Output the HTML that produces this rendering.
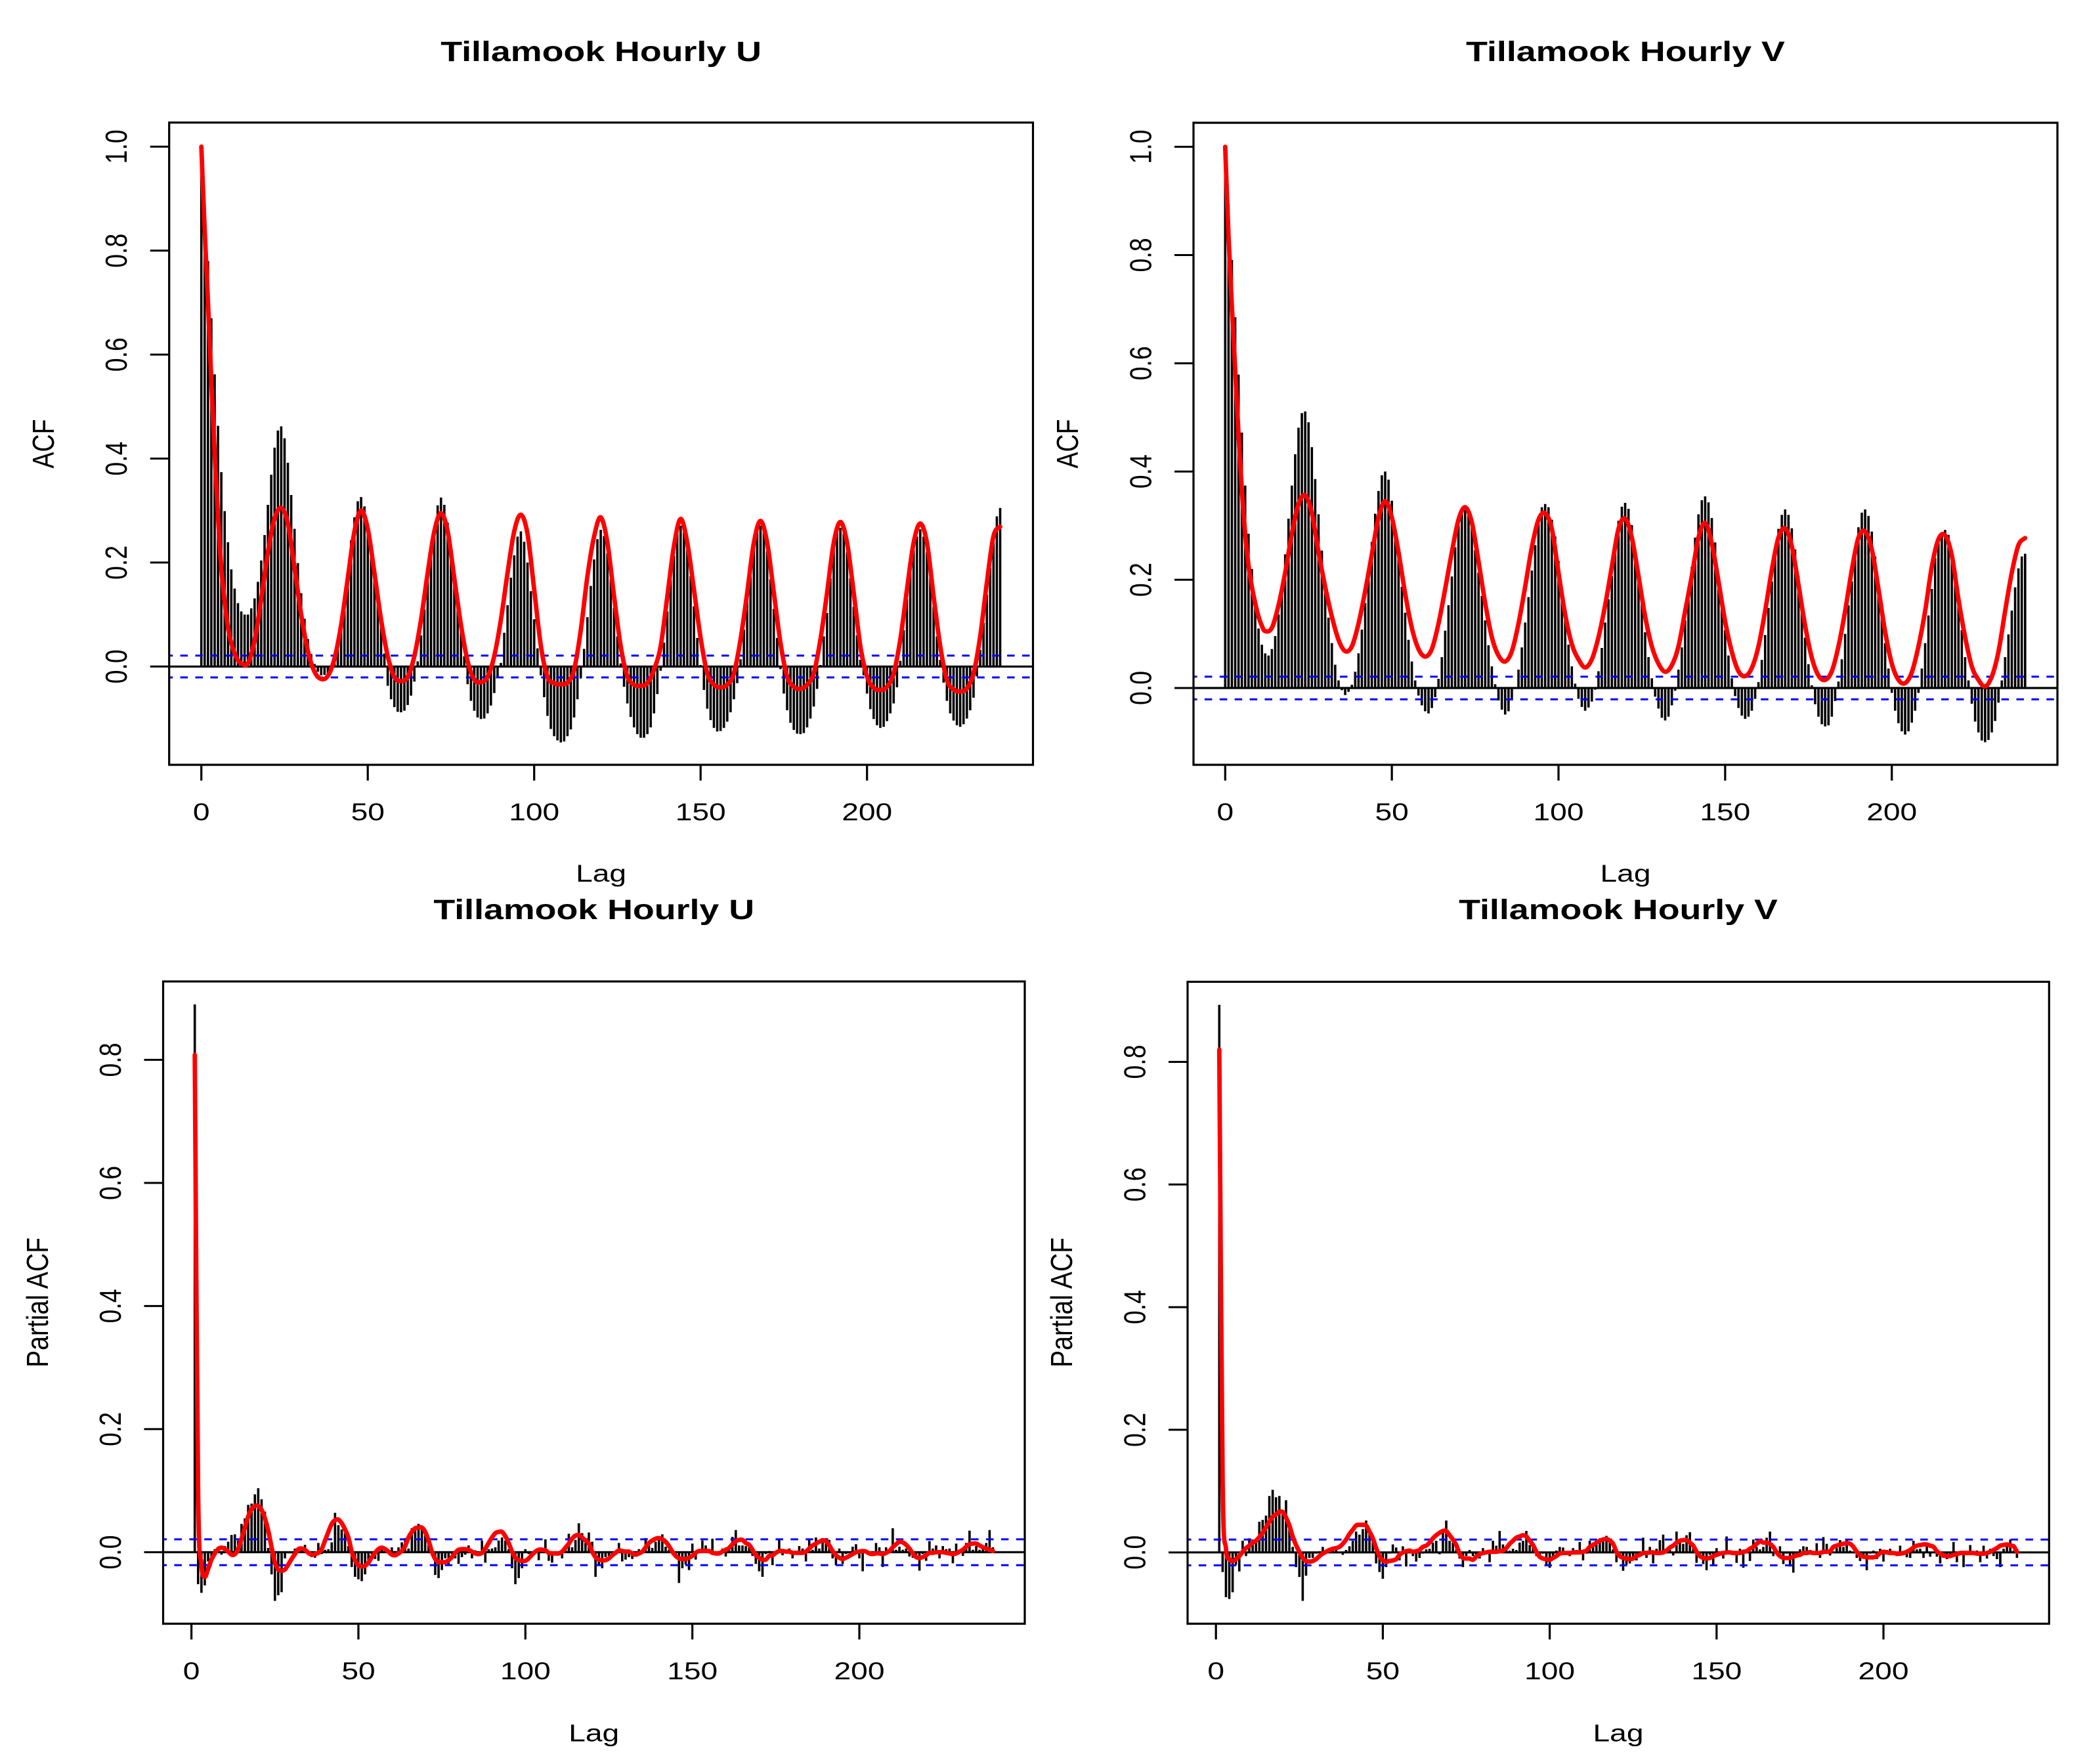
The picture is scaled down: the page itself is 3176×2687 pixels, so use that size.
<!DOCTYPE html>
<html lang="en">
<head>
<meta charset="utf-8">
<title>Tillamook Hourly U and V ACF and PACF</title>
<style>
html,body{margin:0;padding:0;background:#fff;}
svg{display:block;}
text{font-family:"Liberation Sans",Arial,Helvetica,sans-serif;fill:#000;}
.t{font-size:43px;font-weight:bold;text-anchor:middle;}
.a{font-size:37.5px;text-anchor:middle;}
</style>
</head>
<body>
<svg id="chart" xmlns="http://www.w3.org/2000/svg" width="3176" height="2687" viewBox="0 0 3176 2687">
<rect x="0" y="0" width="3176" height="2687" fill="#fff"/>
<text class="t" transform="translate(915.6,93) scale(1.25,1)">Tillamook Hourly U</text>
<text class="t" transform="translate(2476,93) scale(1.25,1)">Tillamook Hourly V</text>
<text class="t" transform="translate(904.7,1400) scale(1.25,1)">Tillamook Hourly U</text>
<text class="t" transform="translate(2465,1400) scale(1.25,1)">Tillamook Hourly V</text>
<text class="a" transform="translate(915.6,1343) scale(1.23,1)">Lag</text>
<text class="a" transform="translate(2476,1343) scale(1.23,1)">Lag</text>
<text class="a" transform="translate(904.7,2652.5) scale(1.23,1)">Lag</text>
<text class="a" transform="translate(2465,2652.5) scale(1.23,1)">Lag</text>
<text class="a" transform="translate(82,676) scale(1.23,1) rotate(-90)">ACF</text>
<text class="a" transform="translate(1642,676) scale(1.23,1) rotate(-90)">ACF</text>
<text class="a" transform="translate(73,1984) scale(1.23,1.045) rotate(-90)">Partial ACF</text>
<text class="a" transform="translate(1633,1984) scale(1.23,1.045) rotate(-90)">Partial ACF</text>
<g id="plots"></g>
</svg>
<script>
const xTickLabels = ["0","50","100","150","200"];
const acfYTickLabels = ["0.0","0.2","0.4","0.6","0.8","1.0"];
const pacfYTickLabels = ["0.0","0.2","0.4","0.6","0.8"];
const ciLimits = [0.021,-0.021];

// ACF values, lags 0..240 (ten per row)
const acfU = [
1.0,.89,.78,.67,.562,.463,.374,.299,.239,.187,
.15,.122,.106,.10,.10,.112,.131,.163,.204,.253,
.311,.369,.421,.454,.462,.439,.392,.33,.265,.199,
.141,.092,.053,.024,.005,-.01,-.017,-.016,-.013,.002,
.023,.05,.085,.13,.18,.243,.287,.318,.326,.308,
.27,.225,.175,.125,.08,.025,-.037,-.063,-.078,-.087,
-.088,-.085,-.074,-.056,-.029,.01,.06,.11,.165,.225,
.268,.31,.325,.311,.277,.23,.18,.12,.07,.02,
-.034,-.066,-.085,-.098,-.101,-.10,-.09,-.075,-.051,-.022,
.007,.065,.118,.171,.214,.25,.26,.24,.20,.145,
.091,.035,-.017,-.059,-.095,-.12,-.134,-.142,-.146,-.144,
-.134,-.121,-.098,-.063,-.023,.034,.095,.155,.206,.245,
.263,.251,.218,.168,.113,.058,.006,-.039,-.071,-.097,
-.117,-.13,-.137,-.137,-.13,-.117,-.09,-.053,-.008,.046,
.106,.168,.213,.258,.271,.258,.225,.174,.116,.055,
.003,-.045,-.081,-.103,-.118,-.125,-.124,-.118,-.106,-.088,
-.063,-.032,.014,.071,.135,.187,.232,.264,.271,.258,
.222,.168,.111,.055,-.005,-.052,-.084,-.108,-.122,-.129,
-.13,-.128,-.117,-.1,-.077,-.043,.003,.058,.103,.17,
.23,.258,.267,.256,.22,.17,.115,.06,.013,-.017,
-.052,-.082,-.101,-.113,-.118,-.116,-.105,-.09,-.071,-.04,
.011,.07,.13,.18,.225,.25,.264,.25,.22,.17,
.115,.058,.013,-.031,-.066,-.09,-.104,-.113,-.116,-.111,
-.1,-.084,-.06,-.019,.032,.084,.138,.19,.251,.289,
.305];
const acfV = [
1.0,.894,.791,.685,.579,.472,.374,.285,.22,.165,
.11,.08,.064,.06,.072,.096,.136,.187,.247,.313,
.374,.432,.481,.508,.511,.491,.445,.386,.321,.254,
.187,.13,.083,.043,.014,-.004,-.013,-.007,.006,.03,
.064,.108,.157,.213,.27,.322,.364,.393,.4,.385,
.346,.298,.243,.187,.139,.089,.049,.014,-.014,-.032,
-.043,-.047,-.037,-.017,.017,.057,.106,.153,.206,.26,
.302,.328,.338,.328,.298,.255,.213,.17,.125,.079,
.04,.007,-.023,-.04,-.049,-.043,-.023,0,.034,.075,
.121,.168,.217,.264,.311,.334,.34,.334,.311,.28,
.235,.18,.125,.08,.04,.008,-.02,-.035,-.042,-.036,
-.025,-.003,.031,.074,.121,.164,.207,.262,.309,.335,
.342,.331,.301,.256,.207,.155,.103,.057,.018,-.016,
-.038,-.055,-.06,-.053,-.032,-.005,.034,.075,.125,.169,
.224,.278,.321,.347,.354,.343,.314,.269,.207,.159,
.107,.06,.018,-.015,-.037,-.051,-.057,-.053,-.042,-.02,
.011,.052,.098,.148,.197,.256,.294,.32,.33,.32,
.295,.256,.207,.148,.093,.044,.005,-.03,-.053,-.067,
-.071,-.069,-.053,-.024,.012,.053,.1,.153,.197,.258,
.297,.324,.33,.318,.289,.243,.191,.137,.083,.036,
-.009,-.042,-.065,-.08,-.086,-.08,-.064,-.042,-.009,.036,
.083,.134,.183,.24,.278,.287,.292,.283,.251,.204,
.155,.107,.057,.014,-.029,-.062,-.082,-.097,-.1,-.096,
-.082,-.061,-.027,.014,.057,.099,.143,.186,.221,.243,
.248];

// Red curve lags for the ACF panels
const acfCurveLags = [0,1,2,3,4,5,6,7,8,9,10,11,12,
14,16,18,20,22,24,26,28,30,32,
34,36,38,40,42,44,46,48,50,52,
54,56,58,60,62,64,66,68,70,72,
74,76,78,80,82,84,86,88,90,92,
94,96,98,100,102,104,106,108,110,112,
114,116,118,120,122,124,126,128,130,132,
134,136,138,140,142,144,146,148,150,152,
154,156,158,160,162,164,166,168,170,172,
174,176,178,180,182,184,186,188,190,192,
194,196,198,200,202,204,206,208,210,212,
214,216,218,220,222,224,226,228,230,232,
234,236,238,240];
const acfCurveU = [1,.84,.70,.55,.41,.29,.19,.125,.075,.045,.025,.012,.006,
.006,.05,.13,.22,.285,.305,.275,.19,.10,.03,
-.01,-.024,-.018,.015,.08,.17,.26,.30,.265,.18,
.09,.02,-.02,-.028,-.02,.02,.09,.18,.26,.295,
.26,.17,.08,.01,-.025,-.03,-.02,.02,.09,.18,
.26,.292,.255,.148,.04,-.02,-.032,-.034,-.031,-.006,
.07,.174,.25,.287,.238,.135,.039,-.019,-.035,-.037,
-.032,-.006,.039,.135,.232,.284,.238,.148,.055,-.013,
-.035,-.04,-.035,-.013,.052,.142,.238,.28,.238,.142,
.045,-.019,-.039,-.043,-.035,-.013,.052,.142,.238,.278,
.238,.142,.039,-.019,-.041,-.045,-.039,-.013,.052,.148,
.238,.275,.238,.135,.039,-.026,-.044,-.048,-.042,-.013,
.058,.161,.251,.269];
const acfCurveV = [1,.834,.706,.587,.468,.366,.285,.226,.187,.157,.132,.115,.105,
.111,.153,.213,.285,.34,.356,.323,.251,.187,.132,
.089,.068,.077,.119,.179,.247,.315,.345,.315,.251,
.174,.111,.072,.058,.072,.119,.183,.251,.311,.334,
.306,.234,.157,.094,.06,.049,.068,.119,.187,.26,
.311,.323,.294,.213,.136,.081,.053,.038,.053,.094,
.153,.224,.294,.313,.278,.207,.132,.077,.045,.03,
.042,.077,.142,.207,.278,.305,.267,.197,.123,.067,
.031,.022,.037,.077,.142,.218,.278,.295,.262,.191,
.115,.056,.023,.015,.031,.077,.142,.218,.278,.289,
.256,.183,.104,.045,.015,.009,.029,.077,.142,.224,
.275,.282,.245,.164,.094,.04,.015,.003,.021,.067,
.142,.213,.264,.277];

// Partial ACF values, lags 1..240 (ten per row)
const pacfU = [
.89,-.052,-.066,-.054,-.015,-.013,.005,.009,-.004,.01,
.017,.028,.029,.019,.046,.055,.077,.079,.094,.104,
.086,.066,.007,-.036,-.079,-.07,-.065,-.01,-.002,-.002,
.006,.006,.003,.012,-.004,-.008,-.009,.015,-.003,.004,
.005,.016,.064,.044,.037,.031,.01,-.024,-.04,-.044,
-.047,-.036,-.013,-.003,-.011,-.014,.006,.002,-.002,.008,
.002,.008,.016,.023,.006,.039,.04,.046,.042,.028,
.015,.001,-.037,-.042,-.029,-.01,-.02,-.003,-.01,-.019,
-.008,-.004,.011,-.01,.003,-.003,.019,-.017,.005,.006,
.008,.019,.024,.019,.005,-.026,-.052,-.042,-.026,.005,
-.003,-.006,.001,-.013,.001,.021,-.014,-.017,-.003,.001,
-.01,.005,.03,.008,.02,.047,.031,.015,.032,.017,
-.04,-.022,-.026,-.008,-.006,.001,.002,.015,-.015,-.012,
-.008,-.011,-.003,.005,.004,.023,.018,.007,.017,.024,
.029,.009,.004,.001,-.003,-.05,-.026,-.02,-.029,.014,
-.012,.001,.019,.011,.001,.022,.001,.002,.006,-.007,
.008,.025,.036,.011,.011,.01,.008,-.006,-.019,-.031,
-.04,-.003,.002,-.021,.002,.022,-.005,.004,.006,-.01,
.001,.01,.006,-.015,.022,.004,.024,.006,.023,.023,
.02,-.01,-.021,.006,-.019,-.003,.001,.009,.013,-.01,
-.031,.002,-.005,.001,.015,.008,-.024,.008,.004,.039,
.004,.009,.004,.006,-.007,-.009,-.01,-.03,-.003,-.014,
.018,.006,.011,-.01,.01,.005,.006,-.018,.014,.003,
-.006,.015,.035,.004,.01,.004,.005,.015,.036,.008];
const pacfV = [
.893,-.032,-.073,-.076,-.065,-.02,-.031,.019,-.006,.023,
.021,.016,.05,.053,.06,.092,.102,.09,.092,.069,
.085,.041,.009,-.024,-.04,-.079,-.038,-.009,-.009,-.002,
.002,.009,-.002,.003,.005,.007,.001,-.004,.004,.01,
.019,.034,.029,.038,.052,.03,.019,-.018,-.032,-.043,
-.024,-.002,.013,.008,-.013,.01,-.023,.001,-.006,-.015,
-.009,-.002,.005,.006,.016,.019,-.003,.034,.052,.019,
.016,.005,-.01,-.024,-.006,.004,-.006,-.009,-.01,.007,
-.002,-.016,.019,.011,.035,.013,.009,.003,.006,.004,
.016,.019,.035,.012,.009,-.006,-.006,-.002,-.02,-.025,
-.006,.003,.009,.008,-.004,-.006,.007,.004,.017,-.013,
-.002,.019,.016,.019,.023,.024,.027,.016,.005,-.016,
-.009,-.03,-.02,-.018,-.009,-.013,.001,.024,-.009,.009,
-.018,.006,.02,.029,.005,.01,-.005,.034,.022,.014,
.028,.033,.009,-.017,-.004,-.019,-.029,-.004,-.021,.007,
.002,-.01,.026,-.001,.002,-.017,.006,-.025,.001,-.014,
.021,.009,.005,.009,.024,.034,-.006,.001,.01,-.019,
-.002,-.023,-.033,-.001,.005,.01,.009,.004,.001,.015,
-.009,.025,.014,-.005,.001,.007,.02,.009,.021,.003,
-.001,-.009,-.014,-.004,-.029,-.002,.003,-.011,.006,-.015,
.004,.006,-.002,-.006,.011,-.002,-.008,-.009,.019,.005,
.006,-.009,.01,-.007,.001,-.007,-.018,-.009,-.011,-.004,
.017,-.016,.002,-.024,.001,.012,-.004,.003,-.016,.011,
-.01,.006,-.006,-.011,-.024,.006,.016,.021,.003,-.009];

// Red curves for the PACF panels, lags 1..240
const pacfCurveU = [
.808,.10,-.02,-.04,-.027,-.012,-.002,.005,.0075,.005,
.001,-.004,-.003,.005,.022,.04,.058,.07,.075,.075,
.069,.055,.035,.008,-.017,-.028,-.03,-.028,-.02,-.011,
-.003,.005,.006,.004,-.001,-.004,-.003,-.001,.005,.019,
.033,.046,.052,.053,.047,.037,.024,.001,-.013,-.021,
-.023,-.022,-.017,-.008,-.001,.005,.0075,.005,.001,-.004,
-.005,-.002,.002,.01,.024,.033,.039,.04,.04,.033,
.019,.001,-.011,-.016,-.016,-.016,-.013,-.008,-.001,.004,
.005,.005,.004,.001,-.002,-.003,-.001,.006,.015,.024,
.031,.033,.033,.026,.015,.001,-.009,-.013,-.014,-.014,
-.01,-.004,.001,.004,.004,.003,-.001,-.002,-.002,-.002,
.001,.0075,.014,.022,.027,.028,.024,.019,.014,.001,
-.008,-.012,-.013,-.013,-.01,-.005,-.001,.003,.002,.001,
.001,-.002,-.004,-.002,.001,.008,.015,.019,.022,.023,
.021,.017,.01,.001,-.006,-.01,-.011,-.011,-.009,-.006,
-.001,.002,.002,.002,.002,-.001,-.002,-.002,.001,.004,
.007,.013,.018,.02,.02,.015,.012,.004,-.005,-.009,
-.012,-.012,-.006,-.005,-.001,.002,.002,.001,.001,-.001,
-.001,-.001,-.001,.001,.006,.011,.014,.017,.019,.018,
.011,.002,-.005,-.009,-.011,-.009,-.006,-.003,0,.001,
.002,.001,-.002,-.003,-.002,-.002,-.003,-.001,.002,.008,
.013,.017,.016,.012,.006,-.002,-.008,-.009,-.008,-.005,
-.001,-.001,0,0,0,-.001,-.002,-.003,-.002,.001,
.004,.009,.013,.014,.014,.011,.008,.006,.004,.002];
const pacfCurveV = [
.82,.12,.006,-.011,-.014,-.011,-.006,.001,.007,.011,
.016,.019,.025,.032,.041,.05,.058,.062,.066,.066,
.057,.044,.026,.012,.001,-.009,-.014,-.015,-.014,-.011,
-.006,-.002,.001,.004,.006,.007,.009,.014,.021,.03,
.037,.044,.045,.045,.044,.034,.023,.007,-.006,-.013,
-.015,-.014,-.013,-.011,-.004,0,.002,.003,.001,.002,
.004,.009,.011,.016,.023,.028,.032,.035,.035,.028,
.021,.012,-.002,-.009,-.01,-.01,-.012,-.007,-.003,-.001,
0,.001,.001,.001,.002,.003,.007,.014,.019,.024,
.026,.028,.026,.019,.012,.001,-.007,-.01,-.011,-.012,
-.009,-.006,-.002,-.001,-.001,-.001,0,0,0,.001,
.003,.009,.012,.016,.019,.021,.022,.019,.014,.001,
-.006,-.009,-.01,-.011,-.01,-.006,-.004,-.001,-.001,0,
0,-.001,-.001,0,.003,.008,.011,.016,.019,.02,
.02,.016,.011,.001,-.006,-.009,-.01,-.009,-.006,-.004,
-.002,-.001,0,0,-.001,-.001,-.001,.001,.002,.006,
.009,.014,.018,.016,.016,.014,.009,0,-.006,-.009,
-.009,-.009,-.007,-.005,-.004,-.001,-.001,0,-.001,-.001,
-.001,.001,.001,.002,.009,.011,.013,.014,.015,.014,
.009,.001,-.005,-.007,-.008,-.008,-.008,-.006,-.001,.001,
0,-.001,-.001,-.002,-.002,-.001,.001,.004,.008,.011,
.012,.013,.013,.011,.009,.002,-.002,-.005,-.006,-.006,
-.004,-.003,-.001,-.001,-.001,-.001,-.001,-.002,-.002,-.002,
-.001,.001,.004,.007,.011,.012,.013,.011,.010,.001];

const NS = "http://www.w3.org/2000/svg";
const root = document.getElementById("plots");

function svgEl(tag, parent) {
  const el = document.createElementNS(NS, tag);
  parent.appendChild(el);
  return el;
}
function setLine(el, x1, y1, x2, y2) {
  el.setAttribute("x1", x1);
  el.setAttribute("y1", y1);
  el.setAttribute("x2", x2);
  el.setAttribute("y2", y2);
}
function curvePath(pts) {
  let d = "M" + pts[0][0].toFixed(2) + " " + pts[0][1].toFixed(2);
  for (let i = 0; i < pts.length - 1; i++) {
    const p0 = pts[Math.max(0, i - 1)], p1 = pts[i], p2 = pts[i + 1], p3 = pts[Math.min(pts.length - 1, i + 2)];
    const c1x = p1[0] + (p2[0] - p0[0]) / 6, c1y = p1[1] + (p2[1] - p0[1]) / 6;
    const c2x = p2[0] - (p3[0] - p1[0]) / 6, c2y = p2[1] - (p3[1] - p1[1]) / 6;
    d += "C" + c1x.toFixed(2) + " " + c1y.toFixed(2) + " " + c2x.toFixed(2) + " " + c2y.toFixed(2) + " " + p2[0].toFixed(2) + " " + p2[1].toFixed(2);
  }
  return d;
}

function drawPanel(p) {
  const xScale = lag => p.x0 + p.sx * lag;
  const yScale = v => p.y0 - p.sy * v;

  const g = svgEl("g", root);
  
  

  const clip = svgEl("clipPath", g);
  clip.setAttribute("id", p.name + "-clip");
  const clipRect = svgEl("rect", clip);
  clipRect.setAttribute("x", p.left);
  clipRect.setAttribute("y", p.top);
  clipRect.setAttribute("width", p.right - p.left);
  clipRect.setAttribute("height", p.bottom - p.top);

  const zero = svgEl("line", g);
  
  
  setLine(zero, p.left, yScale(0), p.right, yScale(0));
  zero.setAttribute("stroke", "#000");
  zero.setAttribute("stroke-width", "3.2");

  const barGroup = svgEl("g", g);
  
  
  p.bars.forEach((v, i) => {
    const lag = p.firstLag + i;
    const bar = svgEl("line", barGroup);
    
    
    setLine(bar, xScale(lag), yScale(0), xScale(lag), yScale(v));
    bar.setAttribute("stroke", "#000");
    bar.setAttribute("stroke-width", "3.6");
  });

  ciLimits.forEach(c => {
    const ci = svgEl("line", g);
    
    
    setLine(ci, p.left, yScale(c), p.right, yScale(c));
    ci.setAttribute("stroke", "#0000ff");
    ci.setAttribute("stroke-width", "3");
    ci.setAttribute("stroke-dasharray", "11.5 11.4");
    ci.setAttribute("stroke-dashoffset", "6");
    ci.setAttribute("clip-path", "url(#" + p.name + "-clip)");
  });

  const curve = svgEl("path", g);
  
  
  curve.setAttribute("d", curvePath(p.curve.map((v, i) => [xScale(p.curveLags ? p.curveLags[i] : i + 1), yScale(v)])));
  curve.setAttribute("fill", "none");
  curve.setAttribute("stroke", "#ff0000");
  curve.setAttribute("stroke-width", "6.8");
  curve.setAttribute("stroke-linejoin", "round");
  curve.setAttribute("stroke-linecap", "round");

  const box = svgEl("rect", g);
  
  
  box.setAttribute("x", p.left);
  box.setAttribute("y", p.top);
  box.setAttribute("width", p.right - p.left);
  box.setAttribute("height", p.bottom - p.top);
  box.setAttribute("fill", "none");
  box.setAttribute("stroke", "#000");
  box.setAttribute("stroke-width", "3.2");

  xTickLabels.forEach(label => {
    const lag = Number(label);
    const tick = svgEl("line", g);
    
    
    setLine(tick, xScale(lag), p.bottom, xScale(lag), p.bottom + 24);
    tick.setAttribute("stroke", "#000");
    tick.setAttribute("stroke-width", "3.2");
    const text = svgEl("text", g);
    
    
    text.setAttribute("class", "a");
    text.setAttribute("transform", "translate(" + xScale(lag) + "," + (p.bottom + 84.5) + ") scale(1.23,1)");
    text.textContent = label;
  });

  p.yTicks.forEach(label => {
    const v = Number(label);
    const tick = svgEl("line", g);
    
    
    setLine(tick, p.left - 29, yScale(v), p.left, yScale(v));
    tick.setAttribute("stroke", "#000");
    tick.setAttribute("stroke-width", "3");
    const text = svgEl("text", g);
    
    
    text.setAttribute("class", "a");
    text.setAttribute("transform", "translate(" + (p.left - 64.7) + "," + yScale(v) + ") scale(1.23,1) rotate(-90)");
    text.textContent = label;
  });
}

drawPanel({name:"acf-u", left:257.7, right:1573.5, top:186.7, bottom:1165, x0:306.7, sx:5.07, y0:1015.3, sy:791.9,
  firstLag:0, bars:acfU, curve:acfCurveU, curveLags:acfCurveLags, yTicks:acfYTickLabels});
drawPanel({name:"acf-v", left:1818, right:3134, top:187, bottom:1165, x0:1866.3, sx:5.077, y0:1048, sy:824.4,
  firstLag:0, bars:acfV, curve:acfCurveV, curveLags:acfCurveLags, yTicks:acfYTickLabels});
drawPanel({name:"pacf-u", left:248.5, right:1561, top:1495, bottom:2473.3, x0:291.6, sx:5.087, y0:2364.4, sy:937.5,
  firstLag:1, bars:pacfU, curve:pacfCurveU, yTicks:pacfYTickLabels});
drawPanel({name:"pacf-v", left:1809, right:3121.3, top:1495.5, bottom:2473.3, x0:1852.2, sx:5.084, y0:2364.7, sy:934,
  firstLag:1, bars:pacfV, curve:pacfCurveV, yTicks:pacfYTickLabels});
</script>
</body>
</html>
